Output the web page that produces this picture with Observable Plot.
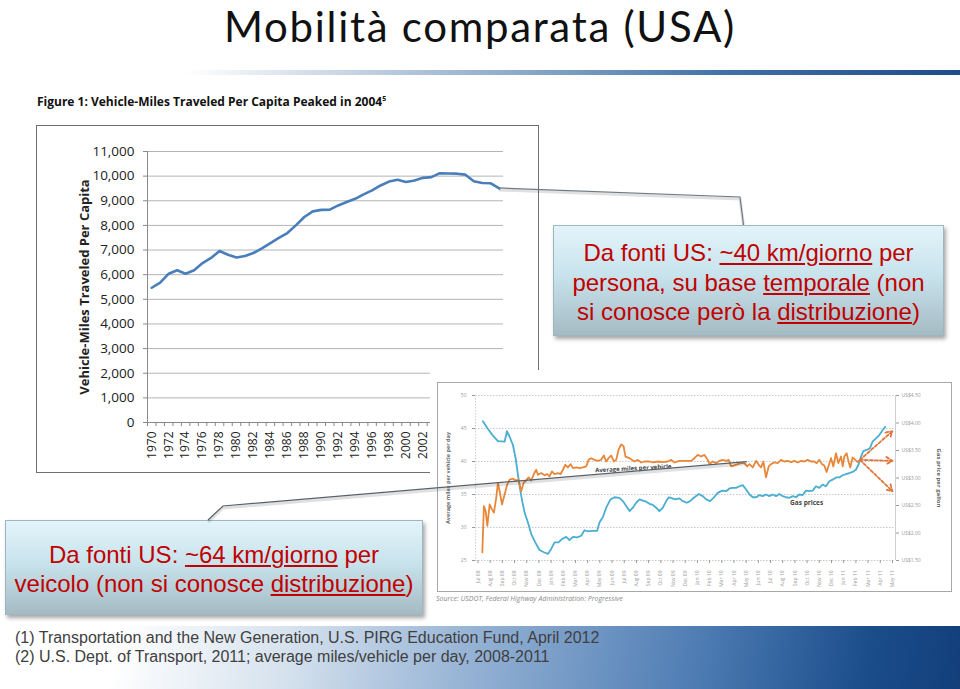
<!DOCTYPE html>
<html><head><meta charset="utf-8">
<script src="https://cdn.jsdelivr.net/npm/d3@7"></script>
<script src="https://cdn.jsdelivr.net/npm/@observablehq/plot@0.6"></script>
<style>
body{margin:0;background:#fff;}
#slide{position:relative;width:960px;height:689px;overflow:hidden;background:#fff;font-family:"Liberation Sans",Arial,sans-serif;}
#title{position:absolute;left:0;top:0.5px;width:960px;text-align:center;font-family:Lato,"Open Sans",sans-serif;font-size:42px;letter-spacing:1.7px;line-height:normal;color:#111;white-space:nowrap;}
#titleLine{position:absolute;left:185px;top:70px;width:775px;height:5px;background:linear-gradient(to right,rgba(255,255,255,0),#c9d6e4 20%,#86a6c8 45%,#3f70a6 70%,#1c4d8a 100%);}
#caption{position:absolute;left:37px;top:93px;font-family:"Open Sans",sans-serif;font-weight:700;font-size:12px;color:#111;white-space:nowrap;}
#caption sup{font-size:7px;}
#frame1{position:absolute;left:36px;top:125px;width:503px;height:348px;border:1px solid #707070;box-sizing:border-box;z-index:1;}
#chart1{position:absolute;left:37px;top:126px;z-index:1;}
#white2{position:absolute;left:430px;top:370px;width:530px;height:245px;background:#fff;z-index:2;}
#frame2{position:absolute;left:437px;top:382px;width:515px;height:210px;border:1.5px solid #a8a8a8;box-sizing:border-box;z-index:2;}
#chart2{position:absolute;left:437px;top:383px;z-index:2;}
#source{position:absolute;left:436px;top:594px;font-family:"Open Sans",sans-serif;font-style:italic;font-size:7px;color:#8a8a8a;z-index:2;white-space:nowrap;}
.callout{position:absolute;box-sizing:border-box;background:linear-gradient(#e3f4fa,#c8e3ec 45%,#a5bbc4);border:1px solid #9fb5bf;box-shadow:2px 3px 4px rgba(0,0,0,0.35);color:#c00000;font-size:24px;text-align:center;z-index:3;white-space:nowrap;}
.callout u{text-decoration-thickness:1.5px;text-underline-offset:2px;}
#callTop{left:553px;top:225px;width:391px;height:111px;line-height:29.5px;padding-top:12px;}
#callBot{left:5px;top:520px;width:418px;height:95px;line-height:29px;padding-top:19px;}
#band{position:absolute;left:0;top:626px;width:960px;height:63px;background:linear-gradient(100deg,rgba(255,255,255,0) 12%,#d6e2ee 30%,#92b0d3 50%,#4f7db4 72%,#1b4d8b 90%,#123f7a 100%);z-index:0;}
#notes{position:absolute;left:15px;top:629px;font-size:16px;line-height:18.7px;color:#404040;z-index:3;white-space:nowrap;}
#over{position:absolute;left:0;top:0;z-index:4;pointer-events:none;}
</style></head><body>
<div id="slide">
  <div id="band"></div>
  <div id="title">Mobilità comparata (USA)</div>
  <div id="titleLine"></div>
  <div id="caption">Figure 1: Vehicle-Miles Traveled Per Capita Peaked in 2004<sup>5</sup></div>
  <div id="frame1"></div>
  <div id="chart1"></div>
  <div id="white2"></div>
  <div id="frame2"></div>
  <div id="chart2"></div>
  <div id="source">Source: USDOT, Federal Highway Administration: Progressive</div>
  <div class="callout" id="callTop">Da fonti US: <u>~40 km/giorno</u> per<br>persona, su base <u>temporale</u> (non<br>si conosce però la <u>distribuzione</u>)</div>
  <div class="callout" id="callBot">Da fonti US: <u>~64 km/giorno</u> per<br>veicolo (non si conosce <u>distribuzione</u>)</div>
  <div id="notes">(1) Transportation and the New Generation, U.S. PIRG Education Fund, April 2012<br>(2) U.S. Dept. of Transport, 2011; average miles/vehicle per day, 2008-2011</div>
</div>
<script>
// ---- Chart 1: vehicle-miles traveled per capita ----
const vmtYears = [1970,1971,1972,1973,1974,1975,1976,1977,1978,1979,1980,1981,1982,1983,1984,1985,1986,1987,1988,1989,1990,1991,1992,1993,1994,1995,1996,1997,1998,1999,2000,2001,2002,2003,2004,2005,2006,2007,2008,2009,2010,2011];
const vmtValues = [5470,5680,6040,6180,6040,6180,6470,6680,6960,6810,6700,6760,6880,7070,7280,7490,7690,8000,8340,8570,8630,8640,8810,8950,9080,9260,9420,9620,9780,9850,9760,9820,9930,9960,10120,10110,10100,10060,9790,9720,9710,9500];
const vmtTicks = [0,1000,2000,3000,4000,5000,6000,7000,8000,9000,10000,11000];
const vmtLabelYears = [1970,1972,1974,1976,1978,1980,1982,1984,1986,1988,1990,1992,1994,1996,1998,2000,2002,2004,2006,2008,2010];

// ---- Chart 2: average miles per vehicle per day and gas prices (t = months since Jul 08) ----
const monthLabels = ["Jul 08","Aug 08","Sep 08","Oct 08","Nov 08","Dec 08","Jan 09","Feb 09","Mar 09","Apr 09","May 09","Jun 09","Jul 09","Aug 09","Sep 09","Oct 09","Nov 09","Dec 09","Jan 10","Feb 10","Mar 10","Apr 10","May 10","Jun 10","Jul 10","Aug 10","Sep 10","Oct 10","Nov 10","Dec 10","Jan 11","Feb 11","Mar 11","Apr 11","May 11"];
const milesTicks = [25,30,35,40,45,50];
const gasTicks = [1.5,2,2.5,3,3.5,4,4.5];
const milesPerVehicle = [[0.36,26.25],[0.49,33.25],[0.63,32.5],[0.77,30.25],[0.96,33.5],[1.15,32.75],[1.31,32.25],[1.50,34.5],[1.64,36.75],[1.78,35.5],[1.97,33.5],[2.19,35.0],[2.40,36.5],[2.60,37.25],[2.87,37.4],[3.14,37.1],[3.33,37.25],[3.55,35.5],[3.74,36.75],[3.96,37.1],[4.15,37.6],[4.37,37.1],[4.59,38.1],[4.78,38.75],[4.92,38.0],[5.19,38.25],[5.46,37.9],[5.68,38.1],[5.87,37.75],[6.07,38.5],[6.28,38.1],[6.56,38.25],[6.78,38.1],[6.97,38.75],[7.16,39.5],[7.38,39.1],[7.60,39.6],[7.79,39.0],[8.06,39.1],[8.33,39.0],[8.61,39.1],[8.88,39.25],[9.07,40.25],[9.29,40.5],[9.56,40.25],[9.84,40.1],[10.10,40.25],[10.33,40.9],[10.52,40.0],[10.71,40.5],[10.93,40.9],[11.15,40.0],[11.34,40.25],[11.53,41.75],[11.75,42.6],[11.95,42.3],[12.10,40.75],[12.43,40.5],[12.84,40.0],[13.12,40.25],[13.39,39.85],[13.66,40.0],[14.07,40.0],[14.35,39.85],[14.76,40.0],[15.17,39.9],[15.57,40.0],[15.85,40.25],[16.12,39.85],[16.53,40.1],[17.08,40.1],[17.49,40.1],[17.76,40.5],[18.03,41.0],[18.31,40.75],[18.58,41.0],[18.85,40.25],[18.99,39.6],[19.26,40.0],[19.54,39.75],[19.81,40.1],[20.08,40.25],[20.36,40.1],[20.57,40.25],[20.77,39.25],[21.04,39.4],[21.31,39.6],[21.59,39.75],[21.86,39.75],[22.08,39.25],[22.27,39.6],[22.54,39.1],[22.82,40.1],[23.03,39.5],[23.22,39.1],[23.41,40.0],[23.63,37.6],[23.85,39.25],[24.04,39.6],[24.31,39.85],[24.59,39.75],[24.86,40.25],[25.13,40.0],[25.41,40.1],[25.68,39.9],[25.95,40.1],[26.23,39.85],[26.50,40.1],[26.77,40.0],[27.05,40.25],[27.32,40.0],[27.59,40.0],[27.78,39.75],[28.00,40.25],[28.22,39.6],[28.41,39.4],[28.60,38.4],[28.77,39.4],[28.96,40.5],[29.15,39.25],[29.37,41.25],[29.56,39.75],[29.78,40.75],[29.92,39.25],[30.05,40.75],[30.24,41.25],[30.41,39.9],[30.54,39.1],[30.73,40.6],[30.95,40.25],[31.14,39.9],[31.33,40.25]];
const gasPrices = [[0.41,4.03],[0.82,3.89],[1.23,3.77],[1.64,3.67],[2.19,3.66],[2.38,3.85],[2.60,3.75],[2.87,3.60],[3.09,3.36],[3.28,3.06],[3.44,2.82],[3.63,2.58],[3.83,2.37],[4.10,2.19],[4.37,1.98],[4.70,1.83],[5.05,1.69],[5.41,1.65],[5.74,1.62],[6.01,1.71],[6.28,1.83],[6.61,1.83],[6.89,1.89],[7.24,1.93],[7.51,1.87],[7.79,1.93],[8.14,1.92],[8.47,1.95],[8.74,2.05],[9.02,2.03],[9.34,2.04],[9.78,2.04],[9.97,2.19],[10.25,2.29],[10.52,2.46],[10.87,2.61],[11.20,2.65],[11.60,2.64],[11.89,2.58],[12.16,2.49],[12.43,2.40],[12.71,2.46],[12.98,2.55],[13.25,2.61],[13.53,2.59],[13.80,2.57],[14.07,2.53],[14.35,2.51],[14.62,2.46],[14.89,2.40],[15.17,2.46],[15.44,2.58],[15.66,2.65],[15.93,2.63],[16.20,2.61],[16.53,2.63],[16.80,2.58],[17.13,2.55],[17.40,2.58],[17.76,2.65],[18.12,2.71],[18.44,2.67],[18.72,2.61],[19.04,2.58],[19.32,2.64],[19.67,2.73],[20.03,2.77],[20.36,2.76],[20.63,2.81],[20.90,2.82],[21.18,2.82],[21.45,2.85],[21.72,2.87],[22.00,2.79],[22.27,2.70],[22.54,2.65],[22.82,2.65],[23.09,2.69],[23.36,2.67],[23.63,2.70],[23.90,2.67],[24.18,2.70],[24.45,2.67],[24.72,2.71],[25.00,2.67],[25.27,2.65],[25.54,2.64],[25.82,2.67],[26.09,2.65],[26.36,2.70],[26.64,2.69],[26.91,2.77],[27.18,2.76],[27.46,2.77],[27.73,2.85],[28.00,2.82],[28.27,2.88],[28.55,2.85],[28.82,2.94],[29.09,2.97],[29.37,3.01],[29.64,3.01],[29.92,3.05],[30.19,3.07],[30.46,3.09],[30.73,3.11],[31.00,3.15],[31.23,3.25],[31.42,3.39],[31.61,3.49],[31.88,3.51],[32.15,3.54],[32.37,3.66],[32.65,3.72],[32.92,3.78],[33.19,3.87],[33.41,3.93]];
const forecastFrom = [31.33, 40.25];
const forecastTo = [[34, 44.6],[34, 40.1],[34, 35.5]];
const milesAnnot = {t: 12.75, v: 38.95, text: "Average miles per vehicle"};
const gasAnnot = {t: 26.96, v: 33.8, text: "Gas prices"};
const connectorTarget = [22.1, 39.9];

// gas price axis: US$1.50 ↔ 25, US$4.50 ↔ 50 miles
const toLeft = g => 25 + (g - 1.5) * 25 / 3;
const fromLeft = v => 1.5 + (v - 25) * 3 / 25;

const vmtData = vmtYears.map((year, i) => ({year, vmt: vmtValues[i]}));
const boundaries = vmtYears.map(y => y - 0.5).concat([2011.5]);

const chart1 = Plot.plot({
  width: 502, height: 347,
  marginLeft: 110, marginRight: 36, marginTop: 25, marginBottom: 51,
  style: {fontFamily: "Open Sans", background: "transparent", color: "#222", overflow: "visible"},
  x: {domain: [1969.5, 2011.5]},
  y: {domain: [0, 11000]},
  marks: [
    Plot.gridY(vmtTicks, {stroke: "#b4b4b4", strokeOpacity: 1}),
    Plot.ruleY([0], {stroke: "#8a8a8a"}),
    Plot.ruleX([1969.5], {stroke: "#8a8a8a"}),
    Plot.axisY({ticks: vmtTicks, tickSize: 4, tickPadding: 9, fontSize: 13.5, stroke: "#8a8a8a", label: null}),
    Plot.axisX({ticks: boundaries, tickSize: 4, tickFormat: () => "", stroke: "#8a8a8a", label: null}),
    Plot.axisX({ticks: vmtLabelYears, tickSize: 0, tickPadding: 9, tickRotate: -90, fontSize: 12, tickFormat: d => String(d), label: null}),
    Plot.line(vmtData, {x: "year", y: "vmt", stroke: "#4a7ebb", strokeWidth: 2.6}),
    Plot.text(["Vehicle-Miles Traveled Per Capita"], {frameAnchor: "left", textAnchor: "middle", dx: -63, rotate: -90, fontWeight: "bold", fontSize: 13, fill: "#222"})
  ]
});
document.getElementById("chart1").append(chart1);

const orange = "#e8873a", blue = "#4aaed0";
const chart2 = Plot.plot({
  width: 515, height: 209,
  marginLeft: 38, marginRight: 57, marginTop: 12, marginBottom: 32,
  style: {fontFamily: "Open Sans", background: "transparent", color: "#999", overflow: "visible"},
  x: {domain: [-0.2, 34.25]},
  y: {domain: [25, 50]},
  marks: [
    Plot.gridY(milesTicks, {stroke: "#c8c8c8", strokeOpacity: 1, strokeDasharray: "1.5,1.5"}),
    Plot.ruleX([-0.2], {stroke: "#cfcfcf", strokeDasharray: "1.5,1.5"}),
    Plot.ruleX([34.25], {stroke: "#cfcfcf"}),
    Plot.axisY({anchor: "left", ticks: milesTicks, tickSize: 3, tickPadding: 6, fontSize: 5, label: null}),
    Plot.axisY({anchor: "right", ticks: gasTicks.map(toLeft), tickFormat: v => "US$" + fromLeft(v).toFixed(2), tickSize: 3, tickPadding: 3, fontSize: 5, label: null}),
    Plot.axisX({ticks: monthLabels.map((_, i) => i), tickFormat: i => monthLabels[i], tickRotate: -90, tickSize: 3, tickPadding: 7, fontSize: 5, label: null}),
    Plot.line(gasPrices, {x: d => d[0], y: d => toLeft(d[1]), stroke: blue, strokeWidth: 1.8}),
    Plot.line(milesPerVehicle, {x: d => d[0], y: d => d[1], stroke: orange, strokeWidth: 1.8}),
    Plot.arrow(forecastTo, {x1: () => forecastFrom[0], y1: () => forecastFrom[1], x2: d => d[0], y2: d => d[1], stroke: "#e0763a", strokeWidth: 1.8, strokeDasharray: "3,2", headLength: 6}),
    Plot.text([milesAnnot], {x: "t", y: "v", text: "text", rotate: -3, fontSize: 6, fontWeight: "bold", fill: "#444"}),
    Plot.text([gasAnnot], {x: "t", y: "v", text: "text", fontSize: 6.5, fontWeight: "bold", fill: "#444"}),
    Plot.text(["Average miles per vehicle per day"], {frameAnchor: "left", textAnchor: "middle", dx: -27, rotate: -90, fontSize: 5.5, fontWeight: "bold", fill: "#666"}),
    Plot.text(["Gas price per gallon"], {frameAnchor: "right", textAnchor: "middle", dx: 43, rotate: 90, fontSize: 6, fontWeight: "bold", fill: "#666"})
  ]
});
document.getElementById("chart2").append(chart2);

// ---- connectors from the callouts to the charts ----
const sx1 = chart1.scale("x"), sy1 = chart1.scale("y");
const sx2 = chart2.scale("x"), sy2 = chart2.scale("y");
const last = vmtData[vmtData.length - 1];
const pA = [37 + sx1.apply(last.year), 126 + sy1.apply(last.vmt)];
const pB = [437 + sx2.apply(connectorTarget[0]), 383 + sy2.apply(connectorTarget[1])];
const ns = "http://www.w3.org/2000/svg";
const over = document.createElementNS(ns, "svg");
over.setAttribute("id", "over"); over.setAttribute("width", 960); over.setAttribute("height", 689);
function poly(pts, stroke, w) {
  const p = document.createElementNS(ns, "polyline");
  p.setAttribute("points", pts.map(q => q.join(",")).join(" "));
  p.setAttribute("fill", "none"); p.setAttribute("stroke", stroke); p.setAttribute("stroke-width", w);
  over.appendChild(p);
}
poly([[pA[0], pA[1] + 2], [740, 199], [743.5, 225]], "rgba(0,0,0,0.12)", 3);
poly([pA, [740, 197], [743.5, 225]], "#6d7b82", 1.2);
poly([[208, 522], [223, 508], [pB[0], pB[1] + 2]], "rgba(0,0,0,0.12)", 3);
poly([[208, 520], [223, 506], pB], "#56626a", 1.2);
document.getElementById("slide").appendChild(over);
</script>
</body></html>
